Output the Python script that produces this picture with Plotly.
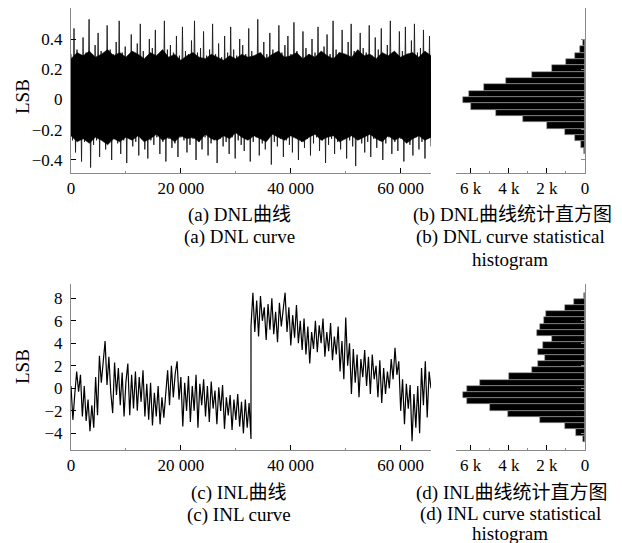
import plotly.graph_objects as go
import numpy as np

W, H = 622, 543

# ---------------- data ----------------
# DNL: per-column upper and lower extremes (needle tips) of the dense noise band (LSB)
DNL_UPPER = [
    0.30, 0.47, 0.33, 0.29, 0.41, 0.31, 0.53, 0.30, 0.36, 0.44,
    0.32, 0.28, 0.49, 0.33, 0.30, 0.38, 0.52, 0.31, 0.35, 0.29,
    0.43, 0.30, 0.37, 0.50, 0.32, 0.28, 0.40, 0.34, 0.46, 0.30,
    0.29, 0.52, 0.33, 0.36, 0.31, 0.42, 0.29, 0.48, 0.32, 0.30,
    0.39, 0.52, 0.31, 0.34, 0.45, 0.29, 0.33, 0.50, 0.30, 0.37,
    0.28, 0.42, 0.31, 0.48, 0.33, 0.29, 0.40, 0.36, 0.30, 0.47,
    0.32, 0.28, 0.53, 0.31, 0.38, 0.30, 0.44, 0.33, 0.29, 0.49,
    0.31, 0.36, 0.42, 0.30, 0.51, 0.32, 0.28, 0.45, 0.34, 0.30,
    0.40, 0.31, 0.48, 0.29, 0.35, 0.43, 0.30, 0.52, 0.33, 0.31,
    0.46, 0.29, 0.38, 0.50, 0.32, 0.30, 0.44, 0.34, 0.31, 0.49,
    0.29, 0.41, 0.33, 0.47, 0.30, 0.36, 0.52, 0.31, 0.29, 0.45,
    0.32, 0.48, 0.30, 0.39, 0.50, 0.31, 0.34, 0.46, 0.30, 0.42,
]
DNL_LOWER = [
    -0.27, -0.35, -0.25, -0.41, -0.28, -0.26, -0.45, -0.30, -0.27, -0.38,
    -0.25, -0.33, -0.28, -0.40, -0.26, -0.29, -0.36, -0.27, -0.42, -0.25,
    -0.31, -0.28, -0.37, -0.26, -0.33, -0.39, -0.27, -0.30, -0.25, -0.36,
    -0.28, -0.41, -0.26, -0.32, -0.29, -0.38, -0.25, -0.27, -0.35, -0.30,
    -0.26, -0.40, -0.28, -0.33, -0.25, -0.37, -0.29, -0.27, -0.42, -0.26,
    -0.31, -0.28, -0.36, -0.25, -0.39, -0.27, -0.30, -0.34, -0.26, -0.41,
    -0.28, -0.25, -0.37, -0.29, -0.33, -0.26, -0.43, -0.28, -0.31, -0.26,
    -0.38, -0.27, -0.30, -0.35, -0.25, -0.40, -0.28, -0.32, -0.26, -0.37,
    -0.29, -0.25, -0.34, -0.27, -0.42, -0.30, -0.26, -0.36, -0.28, -0.33,
    -0.25, -0.39, -0.27, -0.31, -0.44, -0.26, -0.29, -0.35, -0.28, -0.38,
    -0.26, -0.32, -0.27, -0.40, -0.29, -0.25, -0.36, -0.28, -0.34, -0.26,
    -0.41, -0.27, -0.30, -0.37, -0.25, -0.33, -0.28, -0.39, -0.26, -0.31,
]
# DNL: edge of the solid black core of the band (LSB)
DNL_CORE_UPPER = [
    0.27, 0.31, 0.29, 0.32, 0.28, 0.30, 0.33, 0.29, 0.31, 0.28,
    0.32, 0.30, 0.27, 0.31, 0.29, 0.33, 0.28, 0.30, 0.26, 0.29,
    0.31, 0.28, 0.27, 0.30, 0.28, 0.26, 0.29, 0.27, 0.30, 0.28,
    0.29, 0.31, 0.27, 0.30, 0.32, 0.28, 0.29, 0.31, 0.27, 0.30,
    0.28, 0.32, 0.29, 0.27, 0.31, 0.30, 0.28, 0.33, 0.29, 0.30,
    0.27, 0.31, 0.29, 0.32, 0.28, 0.30, 0.31, 0.28, 0.32, 0.29,
]
DNL_CORE_LOWER = [
    -0.24, -0.28, -0.26, -0.29, -0.25, -0.27, -0.30, -0.26, -0.28, -0.25,
    -0.27, -0.24, -0.28, -0.26, -0.23, -0.27, -0.25, -0.28, -0.24, -0.26,
    -0.25, -0.28, -0.23, -0.26, -0.27, -0.24, -0.26, -0.22, -0.25, -0.27,
    -0.24, -0.26, -0.28, -0.23, -0.25, -0.27, -0.24, -0.26, -0.28, -0.25,
    -0.23, -0.27, -0.25, -0.24, -0.28, -0.26, -0.24, -0.27, -0.25, -0.23,
    -0.26, -0.28, -0.24, -0.27, -0.25, -0.29, -0.26, -0.24, -0.27, -0.25,
]

# INL curve, first half of the codes (0 .. 32767)
INL_FIRST_HALF = [
    0.2, -2.8, -0.5, 1.5, -0.3, 1.2, -2.5, 0.2, -2.9, -1.0, -3.8, -1.5,
    -3.5, 1.0, -2.4, 2.9, 0.5, 2.2, 4.2, 0.3, 2.8, -0.4, -2.2, 2.3, -0.6, 1.8,
    -1.5, 1.4, -2.5, 0.6, 2.2, -2.4, 1.2,
    -1.8, 1.5, -2.0, 1.0, -1.2, 1.6, -2.5, 0.4,
    -2.8, 0.5, -3.3, -0.4, -2.5, 0.2, -3.2, -0.8, -2.6, -0.5,
    1.6, -1.5, 2.0, -0.8, 1.3, 2.4,
    -1.0, 1.0, -3.4, 0.5, -2.0, 1.1, -3.0, 0.2,
    -2.0, 1.2, -3.5, 0.4, -1.5,
    0.8, -2.5, 0.2, -3.0, 0.6, -1.8, -0.2,
    -3.2, 0.1, -2.0, 0.3, -3.6, -0.8, -2.4,
    -0.6, -3.7, -1.0, -2.8, -0.5, -3.4,
    -1.2, -4.0, -1.0, -3.5, -1.3, -4.5,
]
# INL curve, second half of the codes (32768 .. 65535)
INL_SECOND_HALF = [
    5.5, 8.5, 5.0, 7.8, 4.6, 8.2, 6.0, 7.2,
    4.3, 7.5, 5.2, 8.0, 4.8, 6.8, 4.1, 7.6, 5.5, 7.0, 8.5,
    5.0, 7.2, 3.8, 6.5, 4.5, 7.4, 4.0, 6.0, 3.4,
    6.2, 3.0, 5.5, 2.2, 5.0, 3.5,
    6.0, 3.2, 5.6, 4.0, 6.2, 2.8, 5.0, 3.3, 5.8, 2.5, 4.6,
    3.0, 5.5, 1.5, 4.2, 0.8, 6.3,
    2.0, 4.0, -0.5, 3.5, 0.5, 3.0, -0.8, 2.6, 1.0,
    3.4, 0.2, 2.8, -0.5, 3.0, 0.8, 2.0, -0.8, 2.5,
    -1.3, 1.8, -0.5, 1.5, 0.0,
    2.6, 0.8, 3.6, 1.2, 2.4,
    -2.0, 0.8, -3.2, 0.4, -1.8,
    0.3, -4.7, -0.5, -3.5, 0.2, -4.0,
    1.8, -1.5, 2.4, -2.6, 1.5, 0.0,
]

# Histograms (bins listed top to bottom)
DNL_BIN_CENTERS = [0.3724, 0.3305, 0.2886, 0.2467, 0.2048, 0.1629, 0.1210, 0.0791, 0.0372,
                   -0.0047, -0.0466, -0.0885, -0.1304, -0.1723, -0.2142, -0.2561, -0.2980, -0.3399]
DNL_BIN_COUNTS = [100, 250, 540, 980, 1730, 2780, 4150, 5300, 6090,
                  6400, 5980, 4670, 3250, 1990, 1050, 510, 190, 70]
DNL_BIN_WIDTH = 0.0419

INL_BIN_CENTERS = [8.22, 7.67, 7.12, 6.57, 6.02, 5.46, 4.91, 4.36, 3.81, 3.26, 2.70, 2.15,
                   1.60, 1.05, 0.50, -0.06, -0.61, -1.16, -1.71, -2.26, -2.82, -3.37, -3.92, -4.47]
INL_BIN_COUNTS = [70, 590, 1050, 2030, 2170, 2350, 2520, 1720, 2200, 2450, 2120, 2450,
                  2770, 3990, 5500, 6190, 6400, 6190, 5000, 4030, 2350, 1050, 490, 100]
INL_BIN_WIDTH = 0.552

X_TICKS = [0, 20000, 40000, 60000]
X_TICK_TEXT = ["0", "20 000", "40 000", "60 000"]
DNL_Y_TICKS = [-0.4, -0.2, 0, 0.2, 0.4, 0.6]
DNL_Y_TEXT = ["\u22120.4", "\u22120.2", "0", "0.2", "0.4", ""]
INL_Y_TICKS = [-4, -2, 0, 2, 4, 6, 8]
INL_Y_TEXT = ["\u22124", "\u22122", "0", "2", "4", "6", "8"]
HIST_X_TICKS = [6000, 4000, 2000, 0]
HIST_X_TEXT = ["6 k", "4 k", "2 k", "0"]

CAPTIONS = [
    (239, 215, "(a) DNL曲线"), (239, 237, "(a) DNL curve"),
    (512, 215, "(b) DNL曲线统计直方图"), (510, 237, "(b) DNL curve statistical"), (510, 259, "histogram"),
    (239, 493, "(c) INL曲线"), (239, 515, "(c) INL curve"),
    (512, 493, "(d) INL曲线统计直方图"), (510, 514, "(d) INL curve statistical"), (510, 533, "histogram"),
]

# ---------------- build ----------------
FONT = "Liberation Serif, Times New Roman, Noto Sans CJK SC, serif"
AX = "#8a8a8a"

def fx(px):
    return px / W

def fy(py):
    return 1 - py / H

fig = go.Figure()

# DNL: thin needles (zigzag between tip extremes) over a solid core polygon
n = len(DNL_UPPER)
dnl_x = np.linspace(0, 65535, 2 * n)
dnl_y = []
for u, l in zip(DNL_UPPER, DNL_LOWER):
    dnl_y += [u, l]
fig.add_trace(go.Scatter(x=dnl_x, y=dnl_y, mode="lines", line=dict(color="#1a1a1a", width=0.9),
                         xaxis="x", yaxis="y", showlegend=False, hoverinfo="skip"))
m = len(DNL_CORE_UPPER)
core_x = np.linspace(0, 65535, m)
fig.add_trace(go.Scatter(x=np.concatenate([core_x, core_x[::-1]]),
                         y=DNL_CORE_UPPER + DNL_CORE_LOWER[::-1],
                         mode="lines", fill="toself", fillcolor="black",
                         line=dict(color="black", width=0.5),
                         xaxis="x", yaxis="y", showlegend=False, hoverinfo="skip"))

# INL curve
x1 = np.linspace(0, 32767, len(INL_FIRST_HALF))
x2 = np.linspace(32768, 65535, len(INL_SECOND_HALF))
fig.add_trace(go.Scatter(x=np.concatenate([x1, x2]), y=INL_FIRST_HALF + INL_SECOND_HALF,
                         mode="lines", line=dict(color="black", width=1.2),
                         xaxis="x3", yaxis="y3", showlegend=False))

# histograms
fig.add_trace(go.Bar(y=DNL_BIN_CENTERS, x=DNL_BIN_COUNTS, orientation="h",
                     width=DNL_BIN_WIDTH, marker=dict(color="black", line=dict(color="#9a9a9a", width=0.6)),
                     xaxis="x2", yaxis="y2", showlegend=False))
fig.add_trace(go.Bar(y=INL_BIN_CENTERS, x=INL_BIN_COUNTS, orientation="h",
                     width=INL_BIN_WIDTH, marker=dict(color="black", line=dict(color="#9a9a9a", width=0.6)),
                     xaxis="x4", yaxis="y4", showlegend=False))

tickfont = dict(family=FONT, size=17, color="black")

def xaxis_curve(anchor):
    return dict(domain=[fx(71), fx(431)], anchor=anchor, range=[0, 65536],
                tickvals=X_TICKS, ticktext=X_TICK_TEXT, ticks="inside", ticklen=5,
                tickcolor="black", tickwidth=1,
                minor=dict(tickvals=[10000, 30000, 50000, 65536], ticks="inside", ticklen=2, tickcolor=AX),
                showline=True, linecolor=AX, linewidth=1, showgrid=False, zeroline=False,
                tickfont=tickfont, fixedrange=True, automargin=False)

def yaxis_curve(anchor, top_px, bot_px, rng, tv, tt):
    return dict(domain=[fy(bot_px), fy(top_px)], anchor=anchor, range=rng,
                tickvals=tv, ticktext=tt, ticks="inside", ticklen=5, tickcolor="black",
                showline=True, linecolor=AX, linewidth=1, showgrid=False, zeroline=False,
                tickfont=tickfont, ticklabelstandoff=4, automargin=False)

def xaxis_hist(anchor):
    return dict(domain=[fx(456), fx(585)], anchor=anchor, range=[6770, 0],
                tickvals=HIST_X_TICKS, ticktext=HIST_X_TEXT, ticks="inside", ticklen=5,
                tickcolor="black",
                minor=dict(tickvals=[1000, 3000, 5000], ticks="inside", ticklen=2, tickcolor=AX),
                showline=True, linecolor=AX, linewidth=1, showgrid=False, zeroline=False,
                tickfont=tickfont, automargin=False)

def yaxis_hist(anchor, top_px, bot_px, rng, tv):
    return dict(domain=[fy(bot_px), fy(top_px)], anchor=anchor, range=rng, side="right",
                tickvals=tv, showticklabels=False, ticks="inside", ticklen=4, tickcolor=AX,
                showline=True, linecolor=AX, linewidth=1, showgrid=False, zeroline=False,
                automargin=False)

DNL_RANGE = [-0.486, 0.605]
INL_RANGE = [-5.48, 9.27]

annotations = []
for cx, cy, t in CAPTIONS:
    annotations.append(dict(x=fx(cx), y=fy(cy), xref="paper", yref="paper", text=t,
                            showarrow=False, xanchor="center", yanchor="middle",
                            font=dict(family=FONT, size=19, color="black")))
for cy in (97, 367):
    annotations.append(dict(x=fx(22), y=fy(cy), xref="paper", yref="paper", text="LSB",
                            showarrow=False, textangle=-90, xanchor="center", yanchor="middle",
                            font=dict(family=FONT, size=19, color="black")))

fig.update_layout(
    width=W, height=H, margin=dict(l=0, r=0, t=0, b=0, pad=0),
    paper_bgcolor="white", plot_bgcolor="white",
    bargap=0, barmode="overlay",
    xaxis=xaxis_curve("y"),
    yaxis=yaxis_curve("x", 8, 173, DNL_RANGE, DNL_Y_TICKS, DNL_Y_TEXT),
    xaxis2=xaxis_hist("y2"),
    yaxis2=yaxis_hist("x2", 8, 173, DNL_RANGE, DNL_Y_TICKS),
    xaxis3=xaxis_curve("y3"),
    yaxis3=yaxis_curve("x3", 284, 450, INL_RANGE, INL_Y_TICKS, INL_Y_TEXT),
    xaxis4=xaxis_hist("y4"),
    yaxis4=yaxis_hist("x4", 284, 450, INL_RANGE, INL_Y_TICKS),
    annotations=annotations,
    font=dict(family=FONT, color="black"),
)

fig.write_html("out.html", config={"displayModeBar": False},
               post_script="document.body.style.margin='0';document.body.style.overflow='hidden';")
